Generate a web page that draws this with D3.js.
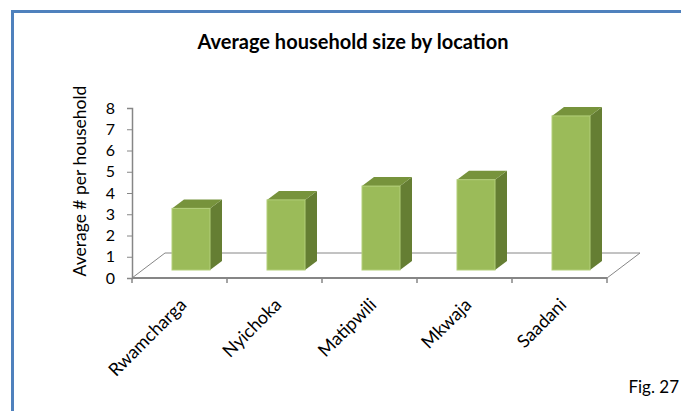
<!DOCTYPE html>
<html><head><meta charset="utf-8">
<script src="https://cdn.jsdelivr.net/npm/d3@7"></script>
<style>html,body{margin:0;padding:0;background:#fff;overflow:hidden}</style>
</head><body>
<svg id="c" width="681" height="411"></svg>
<script>
const categories = ["Rwamcharga","Nyichoka","Matipwili","Mkwaja","Saadani"];
const values = [2.9, 3.3, 3.95, 4.25, 7.25];
const yTicks = [0,1,2,3,4,5,6,7,8];
const title = "Average household size by location";
const yTitle = "Average # per household";
const figLabel = "Fig. 27";

const svg = d3.select("#c");
const font = "Lato, 'Open Sans', sans-serif";

// frame
svg.append("line").attr("x1",11).attr("x2",681).attr("y1",11.5).attr("y2",11.5).attr("stroke","#4F81BD").attr("stroke-width",3);
svg.append("line").attr("x1",12.5).attr("x2",12.5).attr("y1",10).attr("y2",411).attr("stroke","#4F81BD").attr("stroke-width",3);

const x = d3.scaleBand().domain(categories).range([132,607]);
const y = d3.scaleLinear().domain([0,8]).range([278,108]);

const floorD = {dx:33, dy:-25};
const barOff = {dx:11.5, dy:-8};
const depth = {dx:12, dy:-9};
const gray = "#868686";

// floor
const g = svg.append("g");
const x0 = x.range()[0], x1 = x.range()[1], y0 = y(0);
g.append("path").attr("d",`M${x0},${y0}L${x0+floorD.dx},${y0+floorD.dy}L${x1+floorD.dx},${y0+floorD.dy}L${x1},${y0}`)
  .attr("fill","none").attr("stroke",gray).attr("stroke-width",1);

// bars
const bw = x.bandwidth()*0.4;
const bars = g.selectAll("g.bar").data(categories.map((c,i)=>({c,v:values[i]}))).join("g");
bars.each(function(d){
  const sel = d3.select(this);
  const l = x(d.c)+x.bandwidth()/2 - bw/2 + barOff.dx;
  const r = l + bw;
  const b = y(0) + barOff.dy;
  const t = y(d.v) + barOff.dy;
  sel.append("path").attr("d",`M${r},${b}L${r+depth.dx},${b+depth.dy}L${r+depth.dx},${t+depth.dy}L${r},${t}Z`).attr("fill","#657E33");
  sel.append("path").attr("d",`M${l},${t}L${l+depth.dx},${t+depth.dy}L${r+depth.dx},${t+depth.dy}L${r},${t}Z`).attr("fill","#77933C");
  sel.append("rect").attr("x",l).attr("y",t).attr("width",bw).attr("height",b-t).attr("fill","#9BBB59")
    .attr("stroke","#B3CF7A").attr("stroke-width",1);
});

// y axis
const yAxis = d3.axisLeft(y).tickValues(yTicks).tickSize(5).tickPadding(12).tickFormat(d3.format("d"));
const ya = svg.append("g").attr("transform",`translate(${x0},0)`).call(yAxis);
ya.select(".domain").attr("stroke",gray).attr("stroke-width",1.5);
ya.selectAll(".tick line").attr("stroke",gray);
ya.selectAll("text").attr("font-family",font).attr("font-size",16).attr("fill","#000");

// x axis
const xa = svg.append("g").attr("transform",`translate(0,${y0})`);
xa.append("line").attr("x1",x0).attr("x2",x1).attr("y1",0).attr("y2",0).attr("stroke",gray).attr("stroke-width",2);
const bounds = categories.map(c=>x(c)).concat([x1]);
xa.selectAll("line.tk").data(bounds).join("line").attr("class","tk")
  .attr("x1",d=>d).attr("x2",d=>d).attr("y1",0).attr("y2",5).attr("stroke",gray).attr("stroke-width",1.5);
xa.selectAll("text").data(categories).join("text")
  .attr("transform",d=>`translate(${x(d)+x.bandwidth()/2+8},${28}) rotate(-45)`)
  .attr("text-anchor","end").attr("font-family",font).attr("font-size",18).attr("fill","#000").text(d=>d);

// titles
svg.append("text").attr("x",353).attr("y",49).attr("text-anchor","middle").attr("font-family",font)
  .attr("font-weight","bold").attr("font-size",20).attr("fill","#000").text(title);
svg.append("text").attr("transform","translate(86,181) rotate(-90)").attr("text-anchor","middle")
  .attr("font-family",font).attr("font-size",17.5).attr("fill","#000").text(yTitle);
svg.append("text").attr("x",679).attr("y",393).attr("text-anchor","end").attr("font-family",font).attr("font-size",17).attr("fill","#000").text(figLabel);
</script>
</body></html>
